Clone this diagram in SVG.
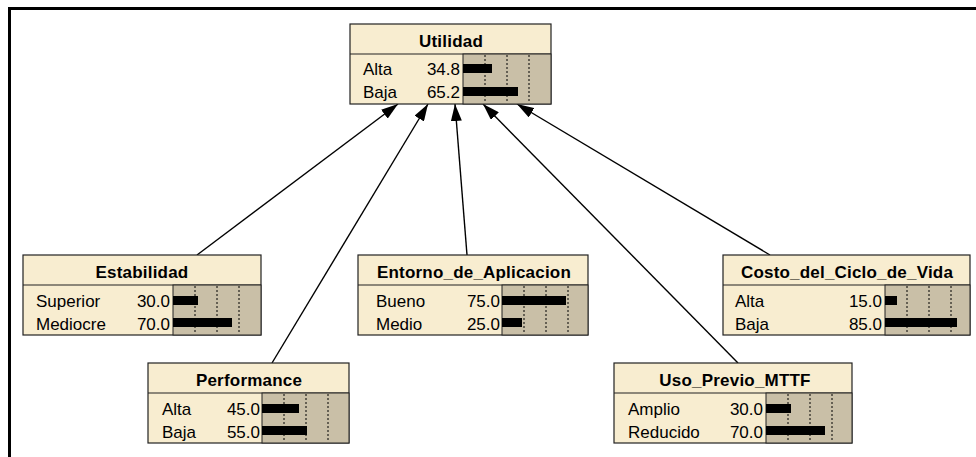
<svg xmlns="http://www.w3.org/2000/svg" width="976" height="457" viewBox="0 0 976 457">
<defs>
<style>
.box{fill:#F8EDD0;stroke:#222;stroke-width:1.2}
.sep{stroke:#222;stroke-width:1.2}
.barbg{fill:#C9BFA7;stroke:#222;stroke-width:1}
.dot{stroke:#000;stroke-width:1;stroke-dasharray:2 2}
.bar{fill:#000}
.title{font-family:"Liberation Sans",Arial,sans-serif;font-size:17px;font-weight:bold;text-anchor:middle;letter-spacing:0.2px;fill:#000}
.lbl{font-family:"Liberation Sans",Arial,sans-serif;font-size:17px;fill:#000}
.val{font-family:"Liberation Sans",Arial,sans-serif;font-size:17px;text-anchor:end;fill:#000}
.edge{stroke:#000;stroke-width:1.4;fill:none;marker-end:url(#ah)}
</style>
<marker id="ah" markerUnits="userSpaceOnUse" viewBox="0 0 17 11" refX="17" refY="5.5" markerWidth="17" markerHeight="11" orient="auto">
<path d="M0,0 L17,5.5 L0,11 z" fill="#000"/>
</marker>
</defs>
<rect width="976" height="457" fill="#fff"/>
<path d="M9.5,457 V8.5 H976" fill="none" stroke="#000" stroke-width="3"/>

<g id="edges">
<line class="edge" x1="197" y1="255" x2="398" y2="104"/>
<line class="edge" x1="272" y1="363" x2="428" y2="104"/>
<line class="edge" x1="467" y1="255" x2="455" y2="104"/>
<line class="edge" x1="738" y1="363" x2="483" y2="104"/>
<line class="edge" x1="770" y1="255" x2="517" y2="104"/>
</g>

<g id="Utilidad">
<rect class="box" x="350" y="24" width="201" height="80"/>
<line class="sep" x1="350" y1="54" x2="551" y2="54"/>
<rect class="barbg" x="463" y="54" width="88" height="50"/>
<line class="dot" x1="485" y1="55" x2="485" y2="103"/>
<line class="dot" x1="507" y1="55" x2="507" y2="103"/>
<line class="dot" x1="529" y1="55" x2="529" y2="103"/>
<rect class="bar" x="463" y="64" width="29" height="9"/>
<rect class="bar" x="463" y="87" width="55" height="9"/>
<text class="title" x="451" y="47">Utilidad</text>
<text class="lbl" x="363" y="75">Alta</text><text class="val" x="460" y="75">34.8</text>
<text class="lbl" x="363" y="98">Baja</text><text class="val" x="460" y="98">65.2</text>
</g>

<g id="Estabilidad">
<rect class="box" x="23" y="255" width="238" height="80"/>
<line class="sep" x1="23" y1="285" x2="261" y2="285"/>
<rect class="barbg" x="173" y="285" width="88" height="50"/>
<line class="dot" x1="195" y1="286" x2="195" y2="334"/>
<line class="dot" x1="217" y1="286" x2="217" y2="334"/>
<line class="dot" x1="239" y1="286" x2="239" y2="334"/>
<rect class="bar" x="173" y="296" width="25" height="9"/>
<rect class="bar" x="173" y="318" width="59" height="9"/>
<text class="title" x="142" y="278">Estabilidad</text>
<text class="lbl" x="36" y="307">Superior</text><text class="val" x="170" y="307">30.0</text>
<text class="lbl" x="36" y="330">Mediocre</text><text class="val" x="170" y="330">70.0</text>
</g>

<g id="Performance">
<rect class="box" x="148" y="363" width="201" height="80"/>
<line class="sep" x1="148" y1="393" x2="349" y2="393"/>
<rect class="barbg" x="262" y="393" width="87" height="50"/>
<line class="dot" x1="284" y1="394" x2="284" y2="442"/>
<line class="dot" x1="306" y1="394" x2="306" y2="442"/>
<line class="dot" x1="328" y1="394" x2="328" y2="442"/>
<rect class="bar" x="262" y="404" width="37" height="9"/>
<rect class="bar" x="262" y="426" width="45" height="9"/>
<text class="title" x="249" y="386">Performance</text>
<text class="lbl" x="162" y="415">Alta</text><text class="val" x="260" y="415">45.0</text>
<text class="lbl" x="162" y="438">Baja</text><text class="val" x="260" y="438">55.0</text>
</g>

<g id="Entorno_de_Aplicacion">
<rect class="box" x="358" y="255" width="230" height="80"/>
<line class="sep" x1="358" y1="285" x2="588" y2="285"/>
<rect class="barbg" x="502" y="285" width="86" height="50"/>
<line class="dot" x1="524" y1="286" x2="524" y2="334"/>
<line class="dot" x1="546" y1="286" x2="546" y2="334"/>
<line class="dot" x1="568" y1="286" x2="568" y2="334"/>
<rect class="bar" x="502" y="296" width="64" height="9"/>
<rect class="bar" x="502" y="318" width="20" height="9"/>
<text class="title" x="474" y="278">Entorno_de_Aplicacion</text>
<text class="lbl" x="376" y="307">Bueno</text><text class="val" x="500" y="307">75.0</text>
<text class="lbl" x="376" y="330">Medio</text><text class="val" x="500" y="330">25.0</text>
</g>

<g id="Costo_del_Ciclo_de_Vida">
<rect class="box" x="723" y="255" width="247" height="80"/>
<line class="sep" x1="723" y1="285" x2="970" y2="285"/>
<rect class="barbg" x="885" y="285" width="85" height="50"/>
<line class="dot" x1="907" y1="286" x2="907" y2="334"/>
<line class="dot" x1="929" y1="286" x2="929" y2="334"/>
<line class="dot" x1="951" y1="286" x2="951" y2="334"/>
<rect class="bar" x="885" y="296" width="12" height="9"/>
<rect class="bar" x="885" y="318" width="72" height="9"/>
<text class="title" x="847" y="278">Costo_del_Ciclo_de_Vida</text>
<text class="lbl" x="735" y="307">Alta</text><text class="val" x="882" y="307">15.0</text>
<text class="lbl" x="735" y="330">Baja</text><text class="val" x="882" y="330">85.0</text>
</g>

<g id="Uso_Previo_MTTF">
<rect class="box" x="614" y="363" width="238" height="80"/>
<line class="sep" x1="614" y1="393" x2="852" y2="393"/>
<rect class="barbg" x="766" y="393" width="86" height="50"/>
<line class="dot" x1="788" y1="394" x2="788" y2="442"/>
<line class="dot" x1="810" y1="394" x2="810" y2="442"/>
<line class="dot" x1="832" y1="394" x2="832" y2="442"/>
<rect class="bar" x="766" y="404" width="25" height="9"/>
<rect class="bar" x="766" y="426" width="59" height="9"/>
<text class="title" x="735" y="386">Uso_Previo_MTTF</text>
<text class="lbl" x="628" y="415">Amplio</text><text class="val" x="763" y="415">30.0</text>
<text class="lbl" x="628" y="438">Reducido</text><text class="val" x="763" y="438">70.0</text>
</g>
</svg>
